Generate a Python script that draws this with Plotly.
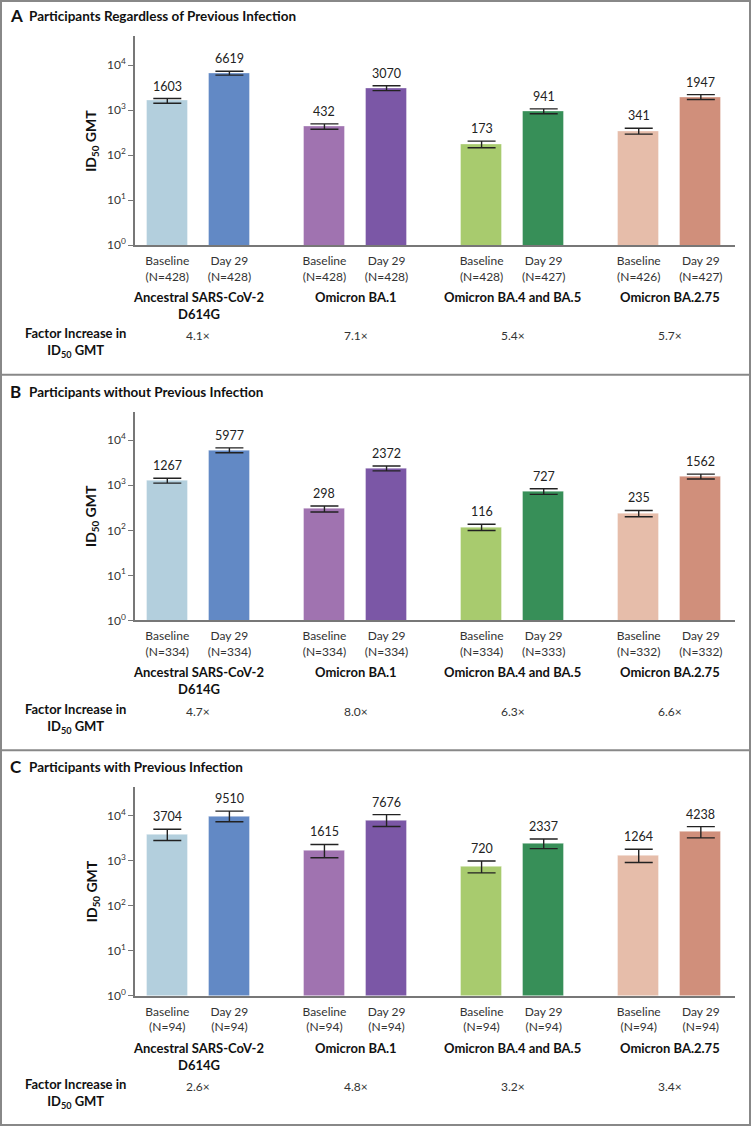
import math
import plotly.graph_objects as go

# ---------------------------------------------------------------- data
variants = ["Ancestral SARS-CoV-2<br>D614G", "Omicron BA.1", "Omicron BA.4 and BA.5", "Omicron BA.2.75"]
timepoints = ["Baseline", "Day 29"]

panel_letters = ["A", "B", "C"]
panel_titles = ["Participants Regardless of Previous Infection",
                "Participants without Previous Infection",
                "Participants with Previous Infection"]

# GMT per bar (baseline, day 29 for each variant)
gmt_A = [1603, 6619, 432, 3070, 173, 941, 341, 1947]
lo_A = [1424, 5983, 377, 2705, 146, 829, 293, 1715]
hi_A = [1805, 7322, 495, 3485, 205, 1068, 397, 2210]
n_A = [428, 428, 428, 428, 428, 427, 426, 427]
factor_A = ["4.1×", "7.1×", "5.4×", "5.7×"]

gmt_B = [1267, 5977, 298, 2372, 116, 727, 235, 1562]
lo_B = [1116, 5266, 256, 2090, 99, 629, 200, 1376]
hi_B = [1438, 6784, 347, 2692, 136, 840, 276, 1773]
n_B = [334, 334, 334, 334, 334, 333, 332, 332]
factor_B = ["4.7×", "8.0×", "6.3×", "6.6×"]

gmt_C = [3704, 9510, 1615, 7676, 720, 2337, 1264, 4238]
lo_C = [2777, 7254, 1151, 5661, 531, 1829, 901, 3177]
hi_C = [4941, 12468, 2266, 10409, 976, 2987, 1773, 5653]
n_C = [94, 94, 94, 94, 94, 94, 94, 94]
factor_C = ["2.6×", "4.8×", "3.2×", "3.4×"]

colors = ["#b3cfdd", "#6289c5", "#a073b0", "#7b57a6", "#a8cb6e", "#378f58", "#e6bdaa", "#d08f7b"]

# ---------------------------------------------------------------- layout helpers
W, H = 751, 1133
FONT = "Lato"
panel_off = [0, 377.5, 755]
ax_top, ax_bot = 36.7, 246.7
x_left, x_right = 135, 735
gap = 2.53
xs = [g * gap + i for g in range(4) for i in range(2)]
centers = [g * gap + 0.5 for g in range(4)]


def py(p):
    return 1 - p / H


fig = go.Figure()
annotations = []
shapes = []

panels = [(gmt_A, lo_A, hi_A, n_A, factor_A),
          (gmt_B, lo_B, hi_B, n_B, factor_B),
          (gmt_C, lo_C, hi_C, n_C, factor_C)]

for k, (gmt, lo, hi, n, factor) in enumerate(panels):
    sfx = "" if k == 0 else str(k + 1)
    xa, ya = "x" + sfx, "y" + sfx
    off = panel_off[k]

    fig.add_trace(go.Bar(
        x=xs, y=gmt, width=0.66, xaxis=xa, yaxis=ya,
        marker=dict(color=colors, line=dict(color="rgba(255,255,255,0.35)", width=1)),
        error_y=dict(type="data", symmetric=False,
                     array=[h - g for h, g in zip(hi, gmt)],
                     arrayminus=[g - l for g, l in zip(gmt, lo)],
                     color="#222", thickness=1.4, width=14),
        showlegend=False, hoverinfo="skip"))

    # value labels above the upper CI
    for x, g, h in zip(xs, gmt, hi):
        annotations.append(dict(xref=xa, yref=ya, x=x, y=math.log10(h),
                                yanchor="bottom", yshift=3, showarrow=False,
                                text=str(g), font=dict(family=FONT, size=12.5, color="#222")))

    ticktext = [f"{timepoints[i % 2]}<br>(N={n[i]})" for i in range(8)]
    fig.update_layout(**{
        "xaxis" + sfx: dict(domain=[x_left / W, x_right / W], range=[-0.52, 9.14],
                            tickvals=xs, ticktext=ticktext, ticks="",
                            ticklabelstandoff=4,
                            showline=True, linecolor="#777", linewidth=1.5,
                            showgrid=False, zeroline=False, fixedrange=True,
                            tickfont=dict(family=FONT, size=12, color="#333"),
                            anchor=ya),
        "yaxis" + sfx: dict(domain=[py(off + ax_bot), py(off + ax_top)], type="log",
                            range=[0, 4.636],
                            tickvals=[1, 10, 100, 1000, 10000],
                            ticktext=[f"10<sup>{e}</sup>" for e in range(5)],
                            ticks="outside", ticklen=5, tickcolor="#777", tickwidth=1.2,
                            showline=True, linecolor="#777", linewidth=1.5,
                            showgrid=False, zeroline=False, fixedrange=True,
                            tickfont=dict(family=FONT, size=12, color="#333"),
                            anchor=xa),
    })

    # panel title
    annotations.append(dict(xref="paper", yref="paper", x=8 / W, y=py(off + 16),
                            xanchor="left", yanchor="middle", showarrow=False,
                            text="<b>" + panel_letters[k] + "</b>",
                            font=dict(family=FONT, size=17, color="#111")))
    annotations.append(dict(xref="paper", yref="paper", x=27 / W, y=py(off + 16.5),
                            xanchor="left", yanchor="middle", showarrow=False,
                            text="<b>" + panel_titles[k] + "</b>",
                            font=dict(family=FONT, size=13.5, color="#111")))
    # y-axis title
    annotations.append(dict(xref="paper", yref="paper", x=92 / W,
                            y=py(off + (ax_top + ax_bot) / 2),
                            xanchor="center", yanchor="middle", showarrow=False,
                            textangle=-90, text="<b>ID<sub>50</sub> GMT</b>",
                            font=dict(family=FONT, size=14, color="#111")))
    # variant names and factor increases
    for g in range(4):
        annotations.append(dict(xref=xa, yref="paper", x=centers[g], y=py(off + 289),
                                xanchor="center", yanchor="top", showarrow=False,
                                text="<b>" + variants[g] + "</b>",
                                font=dict(family=FONT, size=13, color="#111")))
        annotations.append(dict(xref=xa, yref="paper", x=centers[g], y=py(off + 338),
                                xanchor="center", yanchor="middle", showarrow=False,
                                text=factor[g],
                                font=dict(family=FONT, size=12, color="#333")))
    annotations.append(dict(xref="paper", yref="paper", x=75 / W, y=py(off + 345),
                            xanchor="center", yanchor="middle", showarrow=False,
                            text="<b>Factor Increase in<br>ID<sub>50</sub> GMT</b>",
                            font=dict(family=FONT, size=13, color="#111")))

# frame and panel dividers
frame = dict(color="#888", width=2)
shapes.append(dict(type="rect", xref="paper", yref="paper", x0=1 / W, x1=1 - 1 / W,
                   y0=1 / H, y1=1 - 1 / H, line=frame))
for yy in [377, 755]:
    shapes.append(dict(type="line", xref="paper", yref="paper", x0=0, x1=1,
                       y0=py(yy), y1=py(yy), line=frame))

fig.update_layout(width=W, height=H, margin=dict(l=0, r=0, t=0, b=0),
                  paper_bgcolor="white", plot_bgcolor="white",
                  bargap=0, annotations=annotations, shapes=shapes,
                  font=dict(family=FONT))

# drop the browser's default body margin so the figure sits at the page corner
fig.write_html("out.html", config={"displayModeBar": False},
               post_script="document.body.style.margin='0';")
